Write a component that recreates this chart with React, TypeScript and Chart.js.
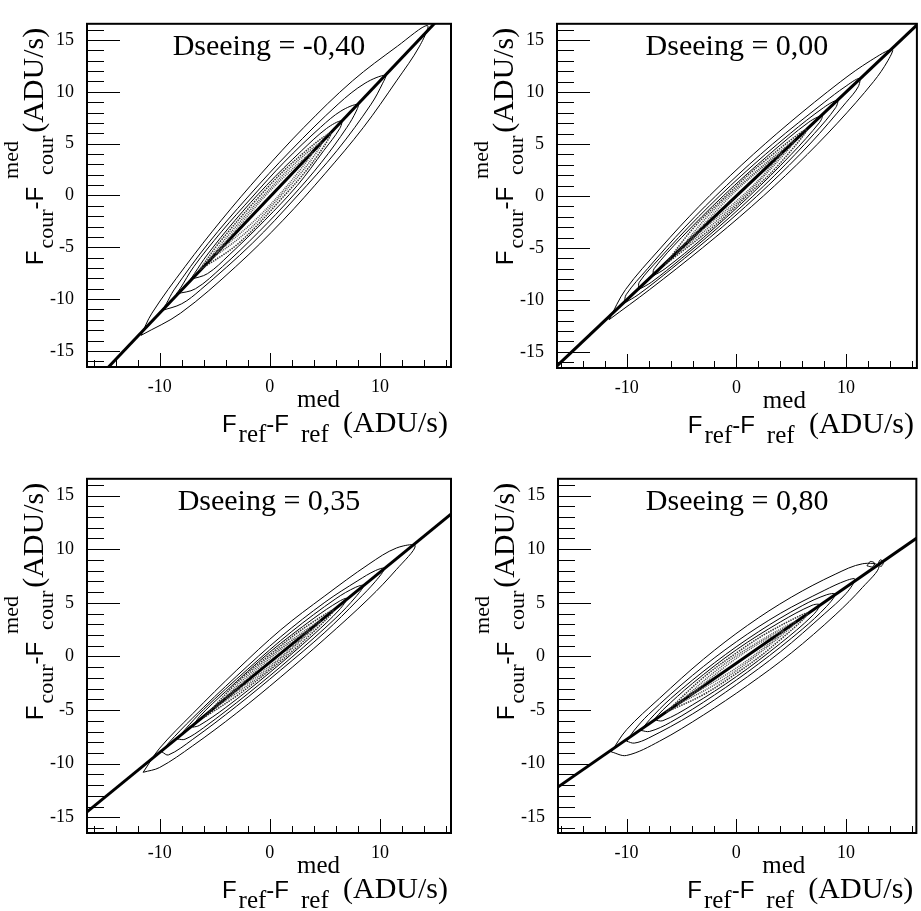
import React, { useEffect, useRef } from "react";
import { Chart, registerables } from "chart.js";
Chart.register(...registerables);

type Pt = [number, number];

// ---------- Top-left panel (Dseeing = -0,40) ----------
const tlLabel = "Dseeing = -0,40";
const tlXRange: Pt = [-16.6, 16.45];
const tlYRange: Pt = [-16.55, 16.56];
const tlFit: Pt[] = [[-16.6, -18.74], [16.5, 18.33]];
const tlC1: Pt[] = [[-11.7, -13.5], [-10.7, -11.35], [-7.7, -6.87], [-4.4, -2.39], [-0.8, 2.09], [3.1, 6.57], [7.5, 11.05], [11.6, 14.41], [14.3, 16.4], [13.6, 14.41], [11.5, 11.05], [8.5, 6.57], [5.0, 2.09], [1.2, -2.39], [-3.1, -6.87], [-8.1, -11.35]];
const tlC2: Pt[] = [[-9.8, -11.1], [-9.4, -10.45], [-8.7, -9.11], [-5.6, -4.63], [-2.0, -0.15], [1.9, 4.33], [6.2, 8.81], [8.65, 10.83], [10.5, 11.6], [10.25, 10.83], [9.2, 8.81], [6.1, 4.33], [2.4, -0.15], [-1.6, -4.63], [-6.3, -9.11], [-8.0, -10.45]];
const tlC3: Pt[] = [[-8.5, -9.5], [-8.15, -9.0], [-6.9, -6.87], [-4.4, -3.51], [-1.6, -0.15], [1.3, 3.21], [4.6, 6.57], [6.45, 8.14], [8.0, 8.8], [7.85, 8.14], [7.0, 6.57], [4.7, 3.21], [2.0, -0.15], [-1.0, -3.51], [-4.3, -6.87], [-6.75, -9.0]];
const tlC4: Pt[] = [[-7.2, -8.1], [-6.85, -7.54], [-5.7, -5.75], [-3.15, -2.39], [-0.3, 0.97], [2.9, 4.33], [5.15, 6.46], [6.5, 7.2], [6.35, 6.46], [4.9, 4.33], [2.5, 0.97], [-0.45, -2.39], [-3.7, -5.75], [-5.65, -7.54]];
const tlC5: Pt[] = [[-6.4, -7.2], [-4.65, -4.63], [-1.0, -0.15], [2.1, 3.21], [5.5, 6.0], [3.9, 3.21], [1.2, -0.15], [-2.85, -4.63]];
const tlC6: Pt[] = [[-5.7, -6.4], [-3.5, -3.51], [-0.7, -0.15], [2.4, 3.21], [4.7, 5.1], [3.6, 3.21], [0.9, -0.15], [-2.1, -3.51]];
const tlC7: Pt[] = [[-4.9, -5.6], [-2.35, -2.39], [0.5, 0.97], [3.9, 4.2], [1.6, 0.97], [-1.35, -2.39]];

// ---------- Top-right panel (Dseeing = 0,00) ----------
const trLabel = "Dseeing = 0,00";
const trXRange: Pt = [-16.35, 16.45];
const trYRange: Pt = [-16.55, 16.56];
const trFit: Pt[] = [[-16.6, -16.6], [16.6, 16.6]];
const trC1: Pt[] = [[-11.6, -11.9], [-10.1, -9], [-6.9, -5], [-3.4, -1], [0.5, 3], [4.8, 7], [9.5, 11], [12.2, 13], [14.2, 14.1], [13.8, 13], [12.5, 11], [9.2, 7], [5.5, 3], [1.4, -1], [-3.1, -5], [-7.9, -9]];
const trC2: Pt[] = [[-10.2, -10.3], [-10.05, -9.5], [-8.1, -7], [-4.7, -3], [-0.9, 1], [3.3, 5], [8.0, 9], [9.9, 10.5], [11.2, 11.3], [11.1, 10.5], [10.0, 9], [6.7, 5], [2.9, 1], [-1.3, -3], [-5.9, -7], [-8.95, -9.5]];
const trC3: Pt[] = [[-8.9, -9.0], [-8.85, -8.3], [-7.0, -6], [-3.45, -2], [0.5, 2], [4.9, 6], [7.95, 8.5], [9.2, 9.2], [9.05, 8.5], [7.1, 6], [3.5, 2], [-0.55, -2], [-5.0, -6], [-7.75, -8.3]];
const trC4: Pt[] = [[-7.6, -7.7], [-7.5, -7.0], [-5.0, -4], [-1.2, 0], [3.0, 4], [6.6, 7.1], [7.8, 7.7], [7.6, 7.1], [5.0, 4], [1.2, 0], [-3.0, -4], [-6.5, -7.0]];
const trC5: Pt[] = [[-6.5, -6.6], [-3.85, -3], [-0.95, 0], [2.15, 3], [6.4, 6.4], [3.85, 3], [0.95, 0], [-2.15, -3]];
const trC6: Pt[] = [[-5.5, -5.6], [-2.65, -2], [0.3, 1], [5.3, 5.3], [1.7, 1], [-1.35, -2]];
const trC7: Pt[] = [[-4.5, -4.5], [-1.45, -1], [1.0, 1.5], [4.1, 4.1], [2.0, 1.5], [-0.55, -1]];

// ---------- Bottom-left panel (Dseeing = 0,35) ----------
const blLabel = "Dseeing = 0,35";
const blXRange: Pt = [-16.6, 16.45];
const blYRange: Pt = [-16.46, 16.56];
const blFit: Pt[] = [[-16.6, -14.49], [16.5, 13.31]];
const blC1: Pt[] = [[-11.5, -10.8], [-10, -8.55], [-7, -5.33], [-3, -1.27], [1, 2.49], [5, 5.65], [9, 8.61], [11.5, 10.11], [13.2, 10.3], [11.5, 8.11], [9, 5.41], [5, 1.65], [1, -1.91], [-3, -5.27], [-7, -8.33], [-10, -10.35]];
const blC2: Pt[] = [[-9.8, -8.9], [-9.2, -8.08], [-7, -5.73], [-3, -1.82], [1, 1.84], [5, 5.05], [8, 7.07], [9.6, 8.01], [10.4, 8.2], [9.6, 7.01], [8, 5.27], [5, 2.25], [1, -1.26], [-3, -4.62], [-7, -7.73], [-9.2, -9.18]];
const blC3: Pt[] = [[-8.4, -7.7], [-7.7, -6.82], [-6, -4.94], [-2, -1.18], [2, 2.33], [6, 5.39], [7.8, 6.45], [8.5, 6.6], [7.8, 5.55], [6, 3.59], [2, -0.07], [-2, -3.48], [-6, -6.64], [-7.7, -7.72]];
const blC4: Pt[] = [[-7.0, -6.6], [-6.4, -5.63], [-4, -3.26], [0, 0.4], [4, 3.56], [6.3, 5.14], [7.0, 5.4], [6.3, 4.34], [4, 2.06], [0, -1.5], [-4, -4.76], [-6.4, -6.43]];
const blC5: Pt[] = [[-6.0, -5.7], [-3, -2.47], [0, 0.17], [3, 2.57], [5.8, 4.3], [3, 1.37], [0, -1.27], [-3, -3.67]];
const blC6: Pt[] = [[-5, -4.8], [-2, -1.78], [1, 0.79], [4.6, 3.3], [1, -0.21], [-2, -2.68]];
const blC7: Pt[] = [[-4, -3.95], [-1, -1.09], [1.5, 1.03], [3.6, 2.45], [1.5, 0.39], [-1, -1.69]];

// ---------- Bottom-right panel (Dseeing = 0,80) ----------
const brLabel = "Dseeing = 0,80";
const brXRange: Pt = [-16.25, 16.4];
const brYRange: Pt = [-16.46, 16.56];
const brFit: Pt[] = [[-16.6, -12.42], [16.6, 11.16]];
const brC1: Pt[] = [[-11.4, -8.9], [-10, -6.83], [-7, -3.9], [-3, -0.26], [1, 2.88], [5, 5.52], [9, 7.66], [11.5, 8.64], [13.0, 8.4], [11.5, 6.44], [9, 3.86], [5, 0.32], [1, -2.72], [-3, -5.46], [-7, -7.9], [-10, -9.23]];
const brC2: Pt[] = [[-10.0, -7.9], [-9.3, -6.88], [-8, -5.41], [-4, -1.77], [0, 1.37], [4, 4.01], [8, 6.15], [10.0, 7.07], [10.8, 7.2], [10.0, 5.87], [8, 3.95], [4, 0.41], [0, -2.63], [-4, -5.37], [-8, -7.61], [-9.3, -8.08]];
const brC3: Pt[] = [[-8.7, -6.9], [-7.9, -5.89], [-6, -3.94], [-2, -0.6], [2, 2.29], [6, 4.73], [8.2, 5.74], [9.0, 5.8], [8.2, 4.64], [6, 2.53], [2, -0.71], [-2, -3.6], [-6, -6.14], [-7.9, -6.99]];
const brC4: Pt[] = [[-7.5, -5.9], [-6.7, -4.99], [-4, -2.52], [0, 0.62], [4, 3.21], [6.9, 4.77], [7.6, 4.8], [6.9, 3.77], [4, 1.21], [0, -1.88], [-4, -4.52], [-6.7, -5.99]];
const brC5: Pt[] = [[-6.4, -5.2], [-3, -1.96], [0, 0.32], [3, 2.3], [6.5, 4.0], [3, 0.7], [0, -1.58], [-3, -3.56]];
const brC6: Pt[] = [[-5.4, -4.5], [-2, -1.45], [1, 0.73], [5.4, 3.2], [1, -0.57], [-2, -2.65]];
const brC7: Pt[] = [[-4.3, -3.7], [-1, -0.94], [1.5, 0.86], [4.3, 2.4], [1.5, 0.02], [-1, -1.74]];
const brIsland1: Pt[] = [[11.9, 8.45], [12.2, 8.85], [12.6, 8.7], [12.4, 8.35]];
const brIsland2: Pt[] = [[12.9, 8.55], [13.1, 9.0], [13.4, 8.8], [13.2, 8.4]];

// tick settings
const xStep = 2;
const xMajor = 10;
const yStep = 1;
const yMajor = 5;

const SERIF = '"Liberation Serif", "Times New Roman", serif';
const SANS = '"Liberation Sans", Arial, sans-serif';

type Area = { l: number; t: number; r: number; b: number };
type PanelDef = {
  left: number; top: number; width: number; height: number; area: Area;
  label: string; xr: Pt; yr: Pt; fit: Pt[]; contours: Pt[][]; extra?: Pt[][];
};

const panels: PanelDef[] = [
  { left: 0, top: 0, width: 460, height: 455, area: { l: 87, t: 3, r: 451, b: 367 }, label: tlLabel, xr: tlXRange, yr: tlYRange, fit: tlFit, contours: [tlC1, tlC2, tlC3, tlC4, tlC5, tlC6, tlC7] },
  { left: 460, top: 0, width: 461, height: 455, area: { l: 97, t: 4, r: 458, b: 368 }, label: trLabel, xr: trXRange, yr: trYRange, fit: trFit, contours: [trC1, trC2, trC3, trC4, trC5, trC6, trC7] },
  { left: 0, top: 455, width: 460, height: 456, area: { l: 87, t: 15, r: 451, b: 378 }, label: blLabel, xr: blXRange, yr: blYRange, fit: blFit, contours: [blC1, blC2, blC3, blC4, blC5, blC6, blC7] },
  { left: 460, top: 455, width: 461, height: 456, area: { l: 98, t: 15, r: 458, b: 378 }, label: brLabel, xr: brXRange, yr: brYRange, fit: brFit, contours: [brC1, brC2, brC3, brC4, brC5, brC6, brC7], extra: [brIsland1, brIsland2] },
];

function drawTitle(ctx: CanvasRenderingContext2D, sub: string, subSize: number) {
  // draws text ending at x=0 with main baseline y=0
  const fSans = "24px " + SANS;
  const fSmall = subSize + "px " + SERIF;
  const fBig = "30px " + SERIF;
  ctx.font = fSans; const wF = ctx.measureText("F").width; const wMF = ctx.measureText("-F").width;
  ctx.font = fSmall; const wSub = ctx.measureText(sub).width; const wMed = ctx.measureText("med").width;
  ctx.font = fBig; const wBig = ctx.measureText("(ADU/s)").width;
  const stackW = Math.max(wMed, wSub + 4);
  const total = wF + 2 + wSub + wMF + 8 + stackW + 3 + wBig;
  let x = -total;
  ctx.textAlign = "left"; ctx.textBaseline = "alphabetic"; ctx.fillStyle = "#000";
  ctx.font = fSans; ctx.fillText("F", x, 0); x += wF + 2;
  ctx.font = fSmall; ctx.fillText(sub, x, 10); x += wSub;
  ctx.font = fSans; ctx.fillText("-F", x, 0); x += wMF + 8;
  ctx.font = fSmall; ctx.fillText("med", x, -25); ctx.fillText(sub, x + 4, 10); x += stackW + 3;
  ctx.font = fBig; ctx.fillText("(ADU/s)", x, 0);
}

const rootPlugin = {
  id: "rootAxes",
  afterDatasetsDraw(chart: any) {
    const { ctx, chartArea: a, scales } = chart;
    const o = chart.options.plugins.rootAxes;
    ctx.save();
    ctx.strokeStyle = "#000";
    ctx.lineWidth = 1;
    for (const t of scales.x.ticks) {
      const px = Math.round(scales.x.getPixelForValue(t.value)) + 0.5;
      const major = Math.abs(t.value % xMajor) < 1e-9;
      const len = major ? 14 : 7;
      ctx.beginPath(); ctx.moveTo(px, a.bottom); ctx.lineTo(px, a.bottom - len); ctx.stroke();
    }
    for (const t of scales.y.ticks) {
      const py = Math.round(scales.y.getPixelForValue(t.value)) + 0.5;
      const major = Math.abs(t.value % yMajor) < 1e-9;
      const len = major ? 33 : 17;
      ctx.beginPath(); ctx.moveTo(a.left, py); ctx.lineTo(a.left + len, py); ctx.stroke();
    }
    ctx.lineWidth = 2;
    ctx.strokeRect(a.left, a.top, a.right - a.left, a.bottom - a.top);
    ctx.fillStyle = "#000";
    ctx.font = "30px " + SERIF;
    ctx.textAlign = "center"; ctx.textBaseline = "alphabetic";
    ctx.fillText(o.label, (a.left + a.right) / 2, a.top + 31);
    // x title
    ctx.save();
    ctx.translate(a.right - 3, a.bottom + 65);
    drawTitle(ctx, "ref", 25);
    ctx.restore();
    // y title
    ctx.save();
    ctx.translate(a.left - 44, a.top + 4);
    ctx.rotate(-Math.PI / 2);
    drawTitle(ctx, "cour", 22);
    ctx.restore();
    ctx.restore();
  },
};

const styles = [
  { c: "#000", w: 1, d: [] as number[] },
  { c: "#000", w: 1, d: [] as number[] },
  { c: "#000", w: 1, d: [] as number[] },
  { c: "#000", w: 1, d: [] as number[] },
  { c: "#333", w: 1.5, d: [1.5, 1] },
  { c: "#444", w: 1.5, d: [1, 1] },
  { c: "#555", w: 1.5, d: [1, 1] },
];

function Panel({ p }: { p: PanelDef }) {
  const ref = useRef<HTMLCanvasElement>(null);
  useEffect(() => {
    const cv = ref.current!;
    const toXY = (pts: Pt[], close: boolean) => {
      const arr = pts.map(([x, y]) => ({ x, y }));
      if (close) arr.push({ x: pts[0][0], y: pts[0][1] });
      return arr;
    };
    const datasets: any[] = p.contours.map((c, i) => ({
      data: toXY(c, true), showLine: true, borderColor: styles[i].c, borderWidth: styles[i].w,
      borderDash: styles[i].d, pointRadius: 0, tension: 0.35, fill: false,
    }));
    (p.extra || []).forEach((c) => datasets.push({
      data: toXY(c, true), showLine: true, borderColor: "#000", borderWidth: 1, pointRadius: 0, tension: 0.3, fill: false,
    }));
    datasets.push({ data: toXY(p.fit, false), showLine: true, borderColor: "#000", borderWidth: 3, pointRadius: 0, tension: 0, fill: false });
    const chart = new Chart(cv, {
      type: "scatter",
      data: { datasets },
      options: {
        animation: false, responsive: false, maintainAspectRatio: false,
        layout: { padding: { left: 0, top: p.area.t, right: p.width - p.area.r, bottom: 0 } },
        plugins: { legend: { display: false }, tooltip: { enabled: false }, rootAxes: { label: p.label } } as any,
        scales: {
          x: {
            type: "linear", position: "bottom", min: p.xr[0], max: p.xr[1],
            grid: { display: false, drawTicks: false }, border: { display: false },
            ticks: {
              stepSize: xStep, includeBounds: false, autoSkip: false, maxRotation: 0, maxTicksLimit: 100,
              padding: 9, color: "#000", font: { family: SERIF, size: 18 },
              callback: (v: any) => (Math.abs(Number(v) % xMajor) < 1e-9 ? String(v) : ""),
            },
            afterFit: (s: any) => { s.height = p.height - p.area.b; },
          },
          y: {
            type: "linear", position: "left", min: p.yr[0], max: p.yr[1],
            grid: { display: false, drawTicks: false }, border: { display: false },
            ticks: {
              stepSize: yStep, includeBounds: false, autoSkip: false, maxTicksLimit: 100,
              padding: 13, color: "#000", font: { family: SERIF, size: 18 },
              callback: (v: any) => (Math.abs(Number(v) % yMajor) < 1e-9 ? String(v) : ""),
            },
            afterFit: (s: any) => { s.width = p.area.l; },
          },
        },
      } as any,
      plugins: [rootPlugin],
    });
    return () => chart.destroy();
  }, [p]);
  return (
    <canvas ref={ref} width={p.width} height={p.height}
      style={{ position: "absolute", left: p.left, top: p.top, width: p.width, height: p.height }} />
  );
}

export default function App() {
  return (
    <div style={{ position: "absolute", left: 0, top: 0, width: 921, height: 911, background: "#fff" }}>
      {panels.map((p, i) => <Panel key={i} p={p} />)}
    </div>
  );
}
